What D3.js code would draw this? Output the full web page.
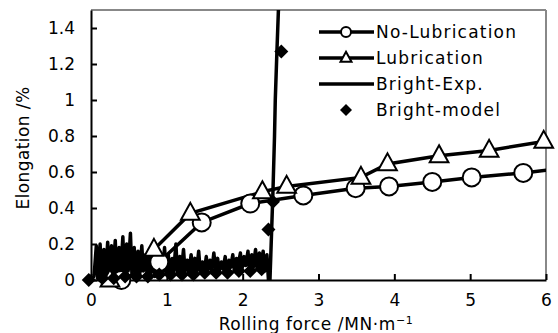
<!DOCTYPE html>
<html><head><meta charset="utf-8">
<script src="https://cdn.jsdelivr.net/npm/d3@7"></script>
<style>body{margin:0;background:#fff}svg{display:block}text{font-family:"DejaVu Sans",sans-serif;}</style>
</head><body><svg id="c" width="558" height="333"></svg>
<script>
// ---- data ----
const xTicks = [0,1,2,3,4,5,6];
const yTicks = [0,0.2,0.4,0.6,0.8,1,1.2,1.4];
const yTickLabels = ["0","0.2","0.4","0.6","0.8","1","1.2","1.4"];
const noLubX = [0.40,0.90,1.46,2.10,2.80,3.49,3.93,4.50,5.02,5.70,6.30];
const noLubY = [0.00,0.10,0.32,0.425,0.47,0.51,0.52,0.545,0.57,0.595,0.625];
const lubX = [0.25,0.83,1.31,2.26,2.58,3.56,3.91,4.59,5.25,5.97];
const lubY = [0.00,0.17,0.37,0.49,0.52,0.57,0.645,0.69,0.72,0.77];
const expX = [0.00,
  0.04,0.07,0.09,0.12,0.14,0.17,0.19,0.22,0.24,0.27,
  0.29,0.32,0.34,0.37,0.39,0.42,0.44,0.47,0.49,0.52,
  0.54,0.57,0.59,0.62,0.64,0.67,0.69,0.72,0.74,0.77,
  0.79,0.82,0.84,0.87,0.89,0.92,0.94,0.97,0.99,1.02,
  1.04,1.07,1.09,1.12,1.14,1.17,1.19,1.22,1.24,1.27,
  1.29,1.32,1.34,1.37,1.39,1.42,1.44,1.47,1.49,1.52,
  1.54,1.57,1.59,1.62,1.64,1.67,1.69,1.72,1.74,1.77,
  1.79,1.82,1.84,1.87,1.89,1.92,1.94,1.97,1.99,2.02,
  2.04,2.07,2.09,2.12,2.14,2.17,2.19,2.22,2.24,2.27,
  2.29,2.32,
  2.34,2.36,2.38,2.40,2.42,2.43,2.45,2.48];
const expY = [0.00,
  0.02,0.19,0.01,0.20,0.03,0.17,0.00,0.21,0.02,0.19,
  0.04,0.22,0.01,0.18,0.03,0.24,0.02,0.20,0.05,0.26,
  0.03,0.18,0.04,0.16,0.02,0.19,0.05,0.14,0.03,0.17,
  0.04,0.13,0.02,0.15,0.05,0.12,0.03,0.18,0.04,0.14,
  0.02,0.12,0.05,0.20,0.03,0.13,0.04,0.17,0.05,0.11,
  0.03,0.14,0.06,0.12,0.04,0.16,0.05,0.10,0.03,0.13,
  0.06,0.11,0.04,0.15,0.07,0.12,0.05,0.10,0.06,0.13,
  0.04,0.11,0.07,0.14,0.05,0.12,0.08,0.15,0.06,0.13,
  0.08,0.16,0.05,0.14,0.07,0.17,0.06,0.15,0.08,0.16,
  0.05,0.14,
  0.00,0.00,0.25,0.50,0.80,1.00,1.25,1.60];
const modelX = [-0.03,0.15,0.30,0.45,0.60,0.75,0.90,1.05,1.20,1.35,1.50,1.65,1.80,1.95,2.10,2.25,2.34,2.40,2.51];
const modelY = [0.00,0.01,0.01,0.02,0.02,0.02,0.03,0.03,0.03,0.03,0.04,0.04,0.04,0.05,0.05,0.06,0.28,0.435,1.27];
const legendNames = ["No-Lubrication","Lubrication","Bright-Exp.","Bright-model"];

// ---- layout ----
const svg = d3.select("#c");
const L=91, R=546, T=10, B=280;
const x = d3.scaleLinear().domain([0,6]).range([L,R]);
const y = d3.scaleLinear().domain([0,1.5]).range([B,T]);

svg.append("defs").append("clipPath").attr("id","clip")
  .append("rect").attr("x",L).attr("y",T).attr("width",R-L).attr("height",B-T);

// frame: top/right gray
svg.append("line").attr("x1",L).attr("x2",R).attr("y1",T).attr("y2",T).attr("stroke","#888").attr("stroke-width",2);
svg.append("line").attr("x1",R).attr("x2",R).attr("y1",T).attr("y2",B).attr("stroke","#888").attr("stroke-width",2);

// axes
const yAxis = d3.axisLeft(y).tickValues(yTicks).tickFormat((d,i)=>yTickLabels[i]).tickSizeInner(-6).tickSizeOuter(0).tickPadding(16);
const gy = svg.append("g").attr("transform",`translate(${L},0)`).call(yAxis);
const xAxis = d3.axisBottom(x).tickValues(xTicks).tickFormat(d3.format("d")).tickSizeInner(-6).tickSizeOuter(0).tickPadding(14);
const gx = svg.append("g").attr("transform",`translate(0,${B})`).call(xAxis);
[gx,gy].forEach(g=>{
  g.select(".domain").attr("stroke","#000").attr("stroke-width",2);
  g.selectAll(".tick line").attr("stroke","#000").attr("stroke-width",2);
  g.selectAll(".tick text").attr("font-size",17).attr("fill","#000").attr("font-family","DejaVu Sans");
});
gx.selectAll(".tick text").attr("dy","0.72em");

// axis titles
svg.append("text").attr("x",316).attr("y",330).attr("text-anchor","middle").attr("font-size",17).attr("letter-spacing",0.6)
  .html('Rolling force /MN·m<tspan dy="-6" font-size="11">−1</tspan>');
svg.append("text").attr("transform","translate(29,148) rotate(-90)").attr("text-anchor","middle").attr("font-size",17).attr("letter-spacing",0.4).text("Elongation /%");

const plot = svg.append("g").attr("clip-path","url(#clip)");
const line = d3.line().x(d=>x(d[0])).y(d=>y(d[1]));

// Bright-Exp
const expData = expX.map((v,i)=>[v,expY[i]]);
plot.append("path").datum(expData).attr("d",line).attr("fill","none").attr("stroke","#000").attr("stroke-width",3.5).attr("stroke-linejoin","round");

// series lines
const noLub = noLubX.map((v,i)=>[v,noLubY[i]]);
const lub = lubX.map((v,i)=>[v,lubY[i]]);
plot.append("path").datum(lub).attr("d",line).attr("fill","none").attr("stroke","#000").attr("stroke-width",3.5);
plot.append("path").datum(noLub).attr("d",line).attr("fill","none").attr("stroke","#000").attr("stroke-width",3.5);

const triPath = (s)=>`M0,${-s*0.62}L${s*0.55},${s*0.38}L${-s*0.55},${s*0.38}Z`;
const diaPath = (s)=>`M0,${-s}L${s},0L0,${s}L${-s},0Z`;

// markers
svg.append("g").selectAll("circle").data(noLub.filter(d=>d[0]<=6)).join("circle")
  .attr("cx",d=>x(d[0])).attr("cy",d=>y(d[1])).attr("r",9).attr("fill","#fff").attr("stroke","#000").attr("stroke-width",2);
svg.append("g").selectAll("path").data(lub).join("path")
  .attr("transform",d=>`translate(${x(d[0])},${y(d[1])})`).attr("d",triPath(17)).attr("fill","#fff").attr("stroke","#000").attr("stroke-width",2);
const model = modelX.map((v,i)=>[v,modelY[i]]);
svg.append("g").selectAll("path").data(model).join("path")
  .attr("transform",d=>`translate(${x(d[0])},${y(d[1])})`).attr("d",diaPath(7)).attr("fill","#000");

// legend
const lg = svg.append("g");
const rows=[32,58,84,110];
legendNames.forEach((n,i)=>{
  const yy=rows[i];
  if(i<3) lg.append("line").attr("x1",319).attr("x2",374).attr("y1",yy).attr("y2",yy).attr("stroke","#000").attr("stroke-width",3.5);
  if(i===0) lg.append("circle").attr("cx",346).attr("cy",yy).attr("r",5).attr("fill","#fff").attr("stroke","#000").attr("stroke-width",2);
  if(i===1) lg.append("path").attr("transform",`translate(346,${yy})`).attr("d",triPath(10)).attr("fill","#fff").attr("stroke","#000").attr("stroke-width",2);
  if(i===3) lg.append("path").attr("transform",`translate(346,${yy})`).attr("d",diaPath(6)).attr("fill","#000");
  lg.append("text").attr("x",376).attr("y",yy+6).attr("font-size",17).attr("letter-spacing",1.2).text(n);
});
</script></body></html>
